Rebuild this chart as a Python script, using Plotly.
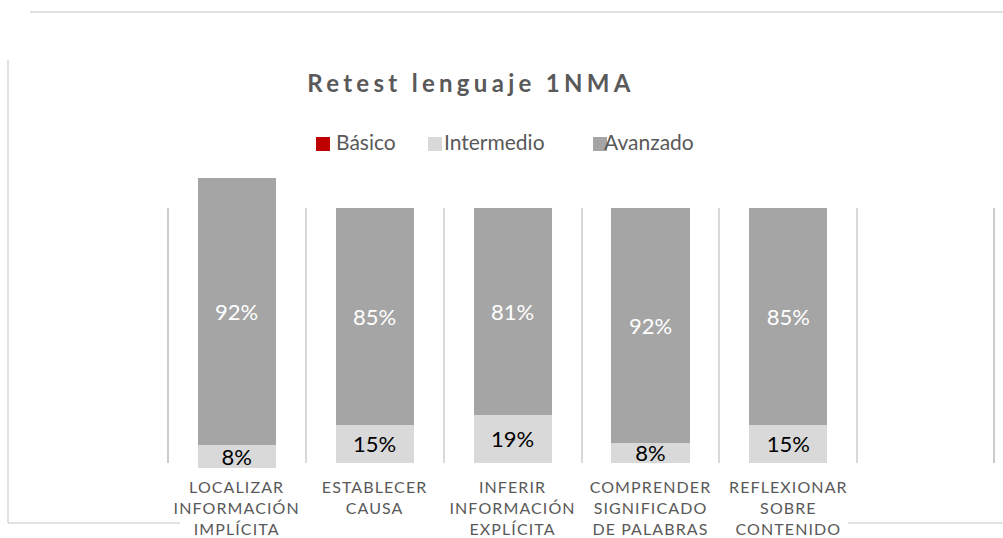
import plotly.graph_objects as go

# Chart data
categories = [
    "LOCALIZAR<br>INFORMACIÓN<br>IMPLÍCITA",
    "ESTABLECER<br>CAUSA",
    "INFERIR<br>INFORMACIÓN<br>EXPLÍCITA",
    "COMPRENDER<br>SIGNIFICADO<br>DE PALABRAS",
    "REFLEXIONAR<br>SOBRE<br>CONTENIDO",
    " ",
]
series_names = ["Básico", "Intermedio", "Avanzado"]
basico = [0, 0, 0, 0, 0]
intermedio = [8, 15, 19, 8, 15]
avanzado = [92, 85, 81, 92, 85]

colors = {"Básico": "#C00000", "Intermedio": "#D9D9D9", "Avanzado": "#A5A5A5"}
label_colors = {"Básico": "#FFFFFF", "Intermedio": "#000000", "Avanzado": "#FFFFFF"}
values = {"Básico": basico, "Intermedio": intermedio, "Avanzado": avanzado}

W, H = 1003, 538
FONT = "Lato, 'Open Sans', sans-serif"
GREY_TEXT = "#595959"
GRID = "#D9D9D9"


def fx(px):
    return px / W


def fy(px):
    return 1 - px / H


fig = go.Figure()

# first category lives on its own (taller) axis pair, the rest on the main one
for name in series_names:
    vals = values[name]
    show_text = name != "Básico"
    common = dict(
        name=name,
        marker=dict(color=colors[name], line=dict(width=0)),
        textposition="inside",
        insidetextanchor="middle",
        textangle=0,
        constraintext="none",
        cliponaxis=False,
        textfont=dict(family=FONT, size=22, color=label_colors[name]),
        showlegend=False,
        hoverinfo="skip",
    )
    fig.add_trace(go.Bar(
        x=categories[:1], y=vals[:1],
        text=[f"{v}%" for v in vals[:1]] if show_text else None,
        xaxis="x2", yaxis="y2", **common))
    fig.add_trace(go.Bar(
        x=categories[1:len(vals)], y=vals[1:],
        text=[f"{v}%" for v in vals[1:]] if show_text else None,
        xaxis="x", yaxis="y", **common))

x_dom = [fx(167), fx(996)]
x_rng = [-0.505, len(categories) - 0.495]

fig.update_layout(
    width=W, height=H,
    margin=dict(l=0, r=0, t=0, b=0),
    paper_bgcolor="white",
    plot_bgcolor="rgba(0,0,0,0)",
    barmode="stack",
    bargap=0.434,
    font=dict(family=FONT, color=GREY_TEXT),
    title=dict(
        text="<b>Retest lenguaje 1NMA</b>",
        x=fx(471), xref="container", xanchor="center",
        y=fy(84), yref="container", yanchor="middle",
        font=dict(family=FONT, size=24, color=GREY_TEXT),
    ),
    xaxis=dict(
        type="category",
        categoryorder="array", categoryarray=categories,
        range=x_rng,
        domain=x_dom, anchor="y",
        tickson="boundaries",
        ticks="", showline=False, zeroline=False,
        showgrid=True, gridcolor=GRID, gridwidth=1.5,
        tickfont=dict(family=FONT, size=16, color=GREY_TEXT),
        ticklabelstandoff=13,
    ),
    yaxis=dict(
        range=[0, 100], domain=[fy(463), fy(208)], anchor="x",
        visible=False, showgrid=False, zeroline=False,
    ),
    xaxis2=dict(
        type="category",
        categoryorder="array", categoryarray=categories,
        range=x_rng,
        domain=x_dom, anchor="y2", visible=False, showgrid=False,
    ),
    yaxis2=dict(
        range=[0, 100], domain=[fy(468), fy(178)], anchor="x2",
        visible=False, showgrid=False, zeroline=False,
    ),
)

# outer grid lines at the two ends of the category axis
for px_edge in (168, 994):
    fig.add_shape(type="line", xref="paper", yref="paper",
                  x0=fx(px_edge), x1=fx(px_edge), y0=fy(463), y1=fy(208),
                  layer="above", line=dict(color="#CCCCCC", width=2))

# chart frame
frame = dict(type="line", xref="paper", yref="paper", line=dict(color=GRID, width=1.5))
fig.add_shape(x0=fx(30), x1=fx(1003), y0=fy(12), y1=fy(12), **frame)
fig.add_shape(x0=fx(8), x1=fx(8), y0=fy(60), y1=fy(523), **frame)
fig.add_shape(x0=fx(8), x1=fx(180), y0=fy(523), y1=fy(523), **frame)
fig.add_shape(x0=fx(848), x1=fx(1003), y0=fy(523), y1=fy(523), **frame)

# legend: swatch + label
legend_items = [("Básico", 316, 335), ("Intermedio", 428, 443), ("Avanzado", 593, 603)]
for name, sx, tx in legend_items:
    fig.add_shape(type="rect", xref="paper", yref="paper",
                  x0=fx(sx), x1=fx(sx + 14), y0=fy(151), y1=fy(137),
                  fillcolor=colors[name], line=dict(width=0), layer="below")
    fig.add_annotation(text=name, xref="paper", yref="paper",
                       x=fx(tx), y=fy(141), xanchor="left", yanchor="middle",
                       showarrow=False, borderpad=0,
                       font=dict(family=FONT, size=21, color=GREY_TEXT))

post = """
var gd = document.getElementById('{plot_id}');
function spacing(){
  gd.querySelectorAll('g.xtick text').forEach(function(t){ t.style.letterSpacing = '1.1px'; });
  var tt = gd.querySelector('text.gtitle');
  if (tt) { tt.style.letterSpacing = '4.3px'; }
}
spacing();
gd.on('plotly_afterplot', spacing);
"""

fig.write_html("out.html", post_script=post)
